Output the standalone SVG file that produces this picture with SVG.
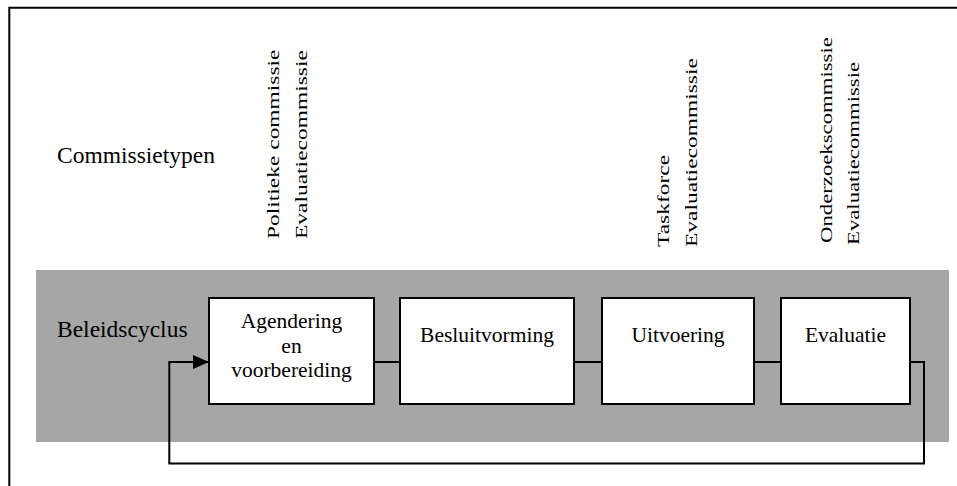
<svg xmlns="http://www.w3.org/2000/svg" width="957" height="486" viewBox="0 0 957 486" font-family="Liberation Serif, Times New Roman, serif">
  <style>
    .frame { fill: none; stroke: #000; stroke-width: 2; }
    .band { fill: #a6a6a6; }
    .box { fill: #fff; stroke: #000; stroke-width: 2; }
    .link { fill: none; stroke: #000; stroke-width: 2; }
    .lbl { font-size: 23.5px; }
    .btxt { font-size: 21.5px; text-anchor: middle; }
    .vtxt { font-size: 17.5px; }
  </style>
  <defs>
    <marker id="arrow" markerWidth="16" markerHeight="14" refX="16" refY="7" orient="auto" markerUnits="userSpaceOnUse">
      <path d="M0,0 L16,7 L0,14 Z" fill="#000"/>
    </marker>
  </defs>

  <rect width="957" height="486" fill="#fff"/>

  <!-- outer frame (top and left edges) -->
  <path class="frame" d="M9.3,486 V7.7 H957"/>

  <!-- policy-cycle band -->
  <rect class="band" x="36" y="270" width="913" height="172"/>

  <!-- row labels -->
  <text class="lbl" x="57" y="163">Commissietypen</text>
  <text class="lbl" x="57" y="337">Beleidscyclus</text>

  <!-- committee types per phase (vertical) -->
  <g id="types-agendering">
    <text class="vtxt" transform="translate(278.5,239) rotate(-90) scale(1.34,1)">Politieke commissie</text>
    <text class="vtxt" transform="translate(307,239) rotate(-90) scale(1.34,1)">Evaluatiecommissie</text>
  </g>
  <g id="types-uitvoering">
    <text class="vtxt" transform="translate(668.5,247) rotate(-90) scale(1.34,1)">Taskforce</text>
    <text class="vtxt" transform="translate(697,247) rotate(-90) scale(1.34,1)">Evaluatiecommissie</text>
  </g>
  <g id="types-evaluatie">
    <text class="vtxt" transform="translate(831.5,243) rotate(-90) scale(1.30,1)">Onderzoekscommissie</text>
    <text class="vtxt" transform="translate(858.5,245) rotate(-90) scale(1.30,1)">Evaluatiecommissie</text>
  </g>

  <!-- connectors -->
  <g id="connectors">
    <line class="link" x1="374" y1="362" x2="400" y2="362"/>
    <line class="link" x1="574" y1="362" x2="602" y2="362"/>
    <line class="link" x1="754" y1="362" x2="781" y2="362"/>
    <path class="link" d="M910,362 H924 V463.5 H169.3 V362 H209" marker-end="url(#arrow)"/>
  </g>

  <!-- phases -->
  <g id="agendering">
    <rect class="box" x="209" y="298" width="165" height="106"/>
    <text class="btxt" x="291.5" y="328">Agendering</text>
    <text class="btxt" x="291.5" y="353">en</text>
    <text class="btxt" x="291.5" y="377">voorbereiding</text>
  </g>
  <g id="besluitvorming">
    <rect class="box" x="400" y="298" width="174" height="106"/>
    <text class="btxt" x="487" y="342">Besluitvorming</text>
  </g>
  <g id="uitvoering">
    <rect class="box" x="602" y="298" width="152" height="106"/>
    <text class="btxt" x="678" y="342">Uitvoering</text>
  </g>
  <g id="evaluatie">
    <rect class="box" x="781" y="298" width="129" height="106"/>
    <text class="btxt" x="845.5" y="342">Evaluatie</text>
  </g>
</svg>
